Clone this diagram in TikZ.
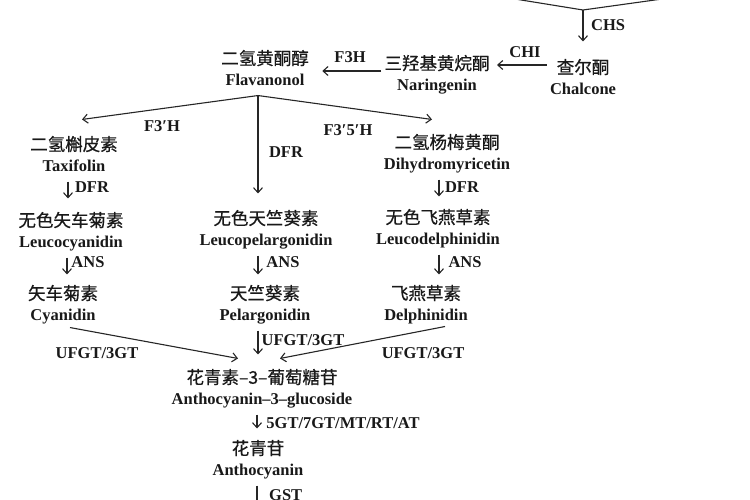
\documentclass[tikz,border=0pt]{standalone}
\usepackage{fontspec}
\setmainfont{Liberation Serif}
\newfontfamily\cjk[FakeBold=0.6]{Noto Sans CJK SC}
\usetikzlibrary{arrows.meta}
\newcommand\zh[1]{{\cjk\mdseries\fontsize{17.5}{21}\selectfont #1}}
\tikzset{
  cmp/.style={align=center, inner sep=3.3pt, text=black!90, font=\bfseries\fontsize{16.5}{21}\selectfont},
  lab/.style={inner sep=1pt, text=black!90, font=\bfseries\fontsize{16.5}{21}\selectfont},
  arr/.style={draw=black!85, line width=1.1pt, -{Straight Barb[length=5pt,width=9pt]}},
  ln/.style={draw=black!85, line width=1.1pt}
}
\begin{document}
\begin{tikzpicture}[x=1pt,y=-1pt]
\useasboundingbox[fill=white] (0,0) rectangle (750,500);
% compounds
\node[cmp] (chalcone) at (583,80) {\zh{查尔酮}\strut\\Chalcone\strut};
\node[cmp] (naringenin) at (437,76) {\zh{三羟基黄烷酮}\strut\\Naringenin\strut};
\node[cmp] (flavanonol) at (265,71) {\zh{二氢黄酮醇}\strut\\Flavanonol\strut};
\node[cmp] (taxifolin) at (74,157) {\zh{二氢槲皮素}\strut\\Taxifolin\strut};
\node[cmp] (dihydromyricetin) at (447,155) {\zh{二氢杨梅黄酮}\strut\\Dihydromyricetin\strut};
\node[cmp] (leucocyanidin) at (71,233) {\zh{无色矢车菊素}\strut\\Leucocyanidin\strut};
\node[cmp] (leucopelargonidin) at (266,231) {\zh{无色天竺葵素}\strut\\Leucopelargonidin\strut};
\node[cmp] (leucodelphinidin) at (438,230) {\zh{无色飞燕草素}\strut\\Leucodelphinidin\strut};
\node[cmp] (cyanidin) at (63,306) {\zh{矢车菊素}\strut\\Cyanidin\strut};
\node[cmp] (pelargonidin) at (265,306) {\zh{天竺葵素}\strut\\Pelargonidin\strut};
\node[cmp] (delphinidin) at (426,306) {\zh{飞燕草素}\strut\\Delphinidin\strut};
\node[cmp] (a3g) at (262,390) {\zh{花青素–3–葡萄糖苷}\strut\\Anthocyanin–3–glucoside\strut};
\node[cmp] (anthocyanin) at (258,461) {\zh{花青苷}\strut\\Anthocyanin\strut};
% coordinates
\coordinate (tl) at (515,-1);
\coordinate (tv) at (583,10);
\coordinate (tr) at (662,-1);
\coordinate (gstend) at (257,515);
\coordinate (fork) at ([xshift=-7pt]flavanonol.south);
% connectors
\draw[ln] (tl) -- (tv) -- (tr);
\draw[arr, shorten >=14pt] (tv) -- (chalcone.north);
\draw[arr, shorten >=4pt] ([yshift=15pt]chalcone.west) -- ([yshift=11pt]naringenin.east);
\draw[arr, shorten >=10pt] ([yshift=5pt]naringenin.west) -- (flavanonol.east);
\draw[arr] (fork) -- ([xshift=8pt,yshift=13pt]taxifolin.north);
\draw[arr, shorten >=13pt] (fork) -- (fork |- leucopelargonidin.north);
\draw[arr] (fork) -- ([xshift=-15pt,yshift=11pt]dihydromyricetin.north);
\draw[arr, shorten >=10pt] ([xshift=-6pt]taxifolin.south) -- ([xshift=-3pt]leucocyanidin.north);
\draw[arr, shorten >=7pt] ([xshift=-4pt]leucocyanidin.south) -- ([xshift=4pt]cyanidin.north);
\draw[arr, shorten >=7pt] ([xshift=-8pt]leucopelargonidin.south) -- ([xshift=-7pt]pelargonidin.north);
\draw[arr, shorten >=9pt] ([xshift=-8pt]dihydromyricetin.south) -- ([xshift=1pt]leucodelphinidin.north);
\draw[arr, shorten >=7pt] ([xshift=1pt]leucodelphinidin.south) -- ([xshift=13pt]delphinidin.north);
\draw[arr, shorten >=11pt] ([xshift=-7pt]pelargonidin.south) -- ([xshift=-4pt]a3g.north);
\draw[arr] ([xshift=7pt,yshift=3pt]cyanidin.south) -- ([xshift=-24pt,yshift=7pt]a3g.north);
\draw[arr] ([xshift=19pt,yshift=4pt]delphinidin.south) -- ([xshift=18pt,yshift=7pt]a3g.north);
\draw[arr, shorten >=8pt] ([xshift=-5pt]a3g.south) -- ([xshift=-1pt]anthocyanin.north);
\draw[arr] ([xshift=-1pt]anthocyanin.south) -- (gstend);
% labels
\node[lab, anchor=west] (lchs) at (590,25) {CHS};
\node[lab] (lchi) at (525,52) {CHI};
\node[lab] (lf3h) at (350,57) {F3H};
\node[lab] (lf3ph) at (162,126) {F3′H};
\node[lab] (lf35h) at (348,130) {F3′5′H};
\node[lab] (ldfrm) at (286,152) {DFR};
\node[lab] (ldfrl) at (92,187) {DFR};
\node[lab] (ldfrr) at (462,187) {DFR};
\node[lab] (lansl) at (88,262) {ANS};
\node[lab] (lansm) at (283,262) {ANS};
\node[lab] (lansr) at (465,262) {ANS};
\node[lab] (lufm) at (303,340) {UFGT/3GT};
\node[lab] (lufl) at (97,353) {UFGT/3GT};
\node[lab] (lufr) at (423,353) {UFGT/3GT};
\node[lab] (l5gt) at (343,423) {5GT/7GT/MT/RT/AT};
\node[lab, anchor=west] (lgst) at (268,495) {GST};
\end{tikzpicture}
\end{document}
